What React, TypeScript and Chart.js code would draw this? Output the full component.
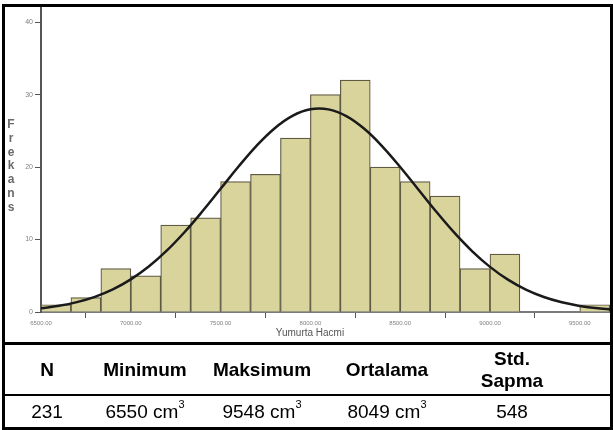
import React, { useEffect, useRef } from "react";
import { Chart, registerables } from "chart.js";

Chart.register(...registerables);

// Histogram bins (centres of 166.67-wide bins) and their frequencies
const binCenters = [6583.33, 6750, 6916.67, 7083.33, 7250, 7416.67, 7583.33, 7750, 7916.67, 8083.33, 8250, 8416.67, 8583.33, 8750, 8916.67, 9083.33, 9250, 9416.67, 9583.33];
const frequencies = [1, 2, 6, 5, 12, 13, 18, 19, 24, 30, 32, 20, 18, 16, 6, 8, 0, 0, 1];

// Fitted normal curve
const curveX = [6500, 6600, 6700, 6800, 6900, 7000, 7100, 7200, 7300, 7400, 7500, 7600, 7700, 7800, 7900, 8000, 8100, 8200, 8300, 8400, 8500, 8600, 8700, 8800, 8900, 9000, 9100, 9200, 9300, 9400, 9500, 9600, 9700];
const curveY = [0.52, 0.85, 1.36, 2.09, 3.12, 4.5, 6.27, 8.46, 11.04, 13.93, 17.0, 20.07, 22.93, 25.33, 27.06, 27.97, 27.96, 27.03, 25.28, 22.87, 20.01, 16.94, 13.87, 10.98, 8.41, 6.23, 4.46, 3.09, 2.07, 1.34, 0.84, 0.51, 0.3];

const xTicks = [6500, 7000, 7500, 8000, 8500, 9000, 9500];
const yTicks = [0, 10, 20, 30, 40];

const yTitleLetters = ["F", "r", "e", "k", "a", "n", "s"];
const xTitle = "Yumurta Hacmi";

const tableHeaders = ["N", "Minimum", "Maksimum", "Ortalama", "Std. Sapma"];
const tableValues = ["231", "6550", "9548", "8049", "548"];
const tableUnits = ["", "cm", "cm", "cm", ""];
const columnCenters = [47, 145, 262, 387, 512];

const FONT = "'Liberation Sans', Arial, sans-serif";

export default function App() {
  const canvasRef = useRef<HTMLCanvasElement | null>(null);

  useEffect(() => {
    document.body.style.margin = "0";
    const ctx = canvasRef.current;
    if (!ctx) return;
    const chart = new Chart(ctx, {
      type: "bar",
      data: {
        datasets: [
          {
            type: "line",
            data: curveX.map((x, i) => ({ x, y: curveY[i] })),
            borderColor: "#1a1a1a",
            borderWidth: 2.5,
            pointRadius: 0,
            tension: 0.4,
            fill: false,
            order: 0,
          } as any,
          {
            type: "bar",
            data: binCenters.map((x, i) => ({ x, y: frequencies[i] })),
            backgroundColor: "#d9d49c",
            borderColor: "#5e5a44",
            borderWidth: 1.2,
            barPercentage: 1,
            categoryPercentage: 1,
            order: 1,
          } as any,
        ],
      },
      options: {
        animation: false,
        responsive: false,
        maintainAspectRatio: false,
        layout: { padding: { top: 6, left: 0, right: 0, bottom: 0 } },
        plugins: { legend: { display: false }, tooltip: { enabled: false } },
        scales: {
          x: {
            type: "linear",
            min: 6500,
            max: 9685,
            offset: false,
            afterBuildTicks: (scale: any) => {
              scale.ticks = xTicks.map((v) => ({ value: v }));
            },
            afterFit: (scale: any) => {
              scale.height = 31;
            },
            ticks: {
              autoSkip: false,
              maxRotation: 0,
              padding: 2,
              color: "#808080",
              font: { family: FONT, size: 6 },
              callback: (v: any) => Number(v).toFixed(2),
            },
            grid: {
              display: true,
              drawOnChartArea: false,
              drawTicks: true,
              tickLength: 6,
              color: "#555555",
              lineWidth: 1,
            },
            border: { display: true, color: "#7a7a7a", width: 2 },
          },
          y: {
            type: "linear",
            min: 0,
            max: 42.2,
            afterBuildTicks: (scale: any) => {
              scale.ticks = yTicks.map((v) => ({ value: v }));
            },
            afterFit: (scale: any) => {
              scale.width = 41;
            },
            ticks: {
              padding: 2,
              color: "#808080",
              font: { family: FONT, size: 7 },
            },
            grid: {
              display: true,
              drawOnChartArea: false,
              drawTicks: true,
              tickLength: 6,
              color: "#555555",
              lineWidth: 1,
            },
            border: { display: true, color: "#555555", width: 2 },
          },
        },
      },
    });
    return () => chart.destroy();
  }, []);

  return (
    <div style={{ position: "relative", width: 613, height: 430, background: "#fff", overflow: "hidden", fontFamily: FONT }}>
      <canvas ref={canvasRef} width={613} height={343} style={{ position: "absolute", left: 0, top: 0, width: 613, height: 343, display: "block" }} />
      {/* y axis title, stacked letters */}
      <div style={{ position: "absolute", left: 1, top: 118, width: 20, textAlign: "center", fontSize: 12, fontWeight: "bold", lineHeight: "13.8px", color: "#6a6a6a" }}>
        {yTitleLetters.map((l, i) => (
          <div key={i}>{l}</div>
        ))}
      </div>
      {/* x axis title */}
      <div style={{ position: "absolute", left: 210, top: 327, width: 200, textAlign: "center", fontSize: 10, color: "#555", lineHeight: "12px" }}>{xTitle}</div>
      {/* outer frame */}
      <div style={{ position: "absolute", left: 2, top: 4, width: 611, height: 426, border: "3px solid #000", boxSizing: "border-box", pointerEvents: "none" }} />
      <div style={{ position: "absolute", left: 2, top: 342, width: 611, height: 3, background: "#000" }} />
      <div style={{ position: "absolute", left: 2, top: 394, width: 611, height: 2, background: "#000" }} />
      {/* table header */}
      {tableHeaders.map((h, i) => (
        <div key={"h" + i} style={{ position: "absolute", left: columnCenters[i] - 60, width: 120, top: 345, height: 49, display: "flex", alignItems: "center", justifyContent: "center", textAlign: "center", fontWeight: "bold", fontSize: 19, lineHeight: "22px", color: "#000" }}>
          <span>
            {h.split(" ").map((w, k) => (
              <div key={k}>{w}</div>
            ))}
          </span>
        </div>
      ))}
      {/* table values */}
      {tableValues.map((v, i) => (
        <div key={"v" + i} style={{ position: "absolute", left: columnCenters[i] - 60, width: 120, top: 396, height: 31, display: "flex", alignItems: "center", justifyContent: "center", fontSize: 19, color: "#000" }}>
          <span>
            {v}
            {tableUnits[i] ? (
              <>
                {" " + tableUnits[i]}
                <sup style={{ fontSize: 11, verticalAlign: "top", position: "relative", top: -3 }}>3</sup>
              </>
            ) : null}
          </span>
        </div>
      ))}
    </div>
  );
}
